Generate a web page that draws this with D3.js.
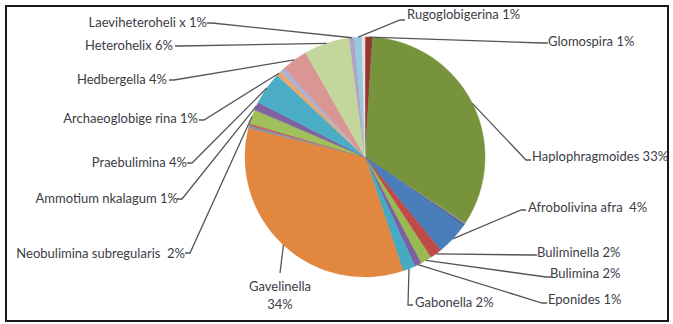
<!DOCTYPE html>
<html>
<head>
<meta charset="utf-8">
<script src="https://cdn.jsdelivr.net/npm/d3@7"></script>
<style>
    body { margin: 0; background: #fff; }
    svg { display: block; }
    .lbl { font-family: Lato, "Open Sans", sans-serif; font-size: 13px; fill: #3c3c46; white-space: pre; }
</style>
</head>
<body>
<svg id="chart" width="673" height="324"></svg>
<script>
// slices in clockwise order from 12 o'clock (in %)
const species = ["Glomospira", "Haplophragmoides", "thin1", "thin2", "Afrobolivina afra",
    "Buliminella", "Bulimina", "Eponides", "Gabonella", "Gavelinella", "thin3", "thin4",
    "Neobulimina subregularis", "Ammotium nkalagum", "Praebulimina", "Archaeoglobigerina",
    "thin5", "Hedbergella", "Heterohelix", "Laeviheterohelix", "Rugoglobigerina", "thin6"]

const shares = [1.0, 33.1, 0.25, 0.25, 4.4,
    1.6, 1.5, 0.9, 1.7, 33.9, 0.3, 0.3,
    1.9, 1.1, 4.4, 0.7,
    0.6, 3.5, 6.1, 0.7, 1.0, 0.4]

const labels = ["Glomospira 1%", "Haplophragmoides 33%", null, null, "Afrobolivina afra  4%",
    "Buliminella 2%", "Bulimina 2%", "Eponides 1%", "Gabonella 2%", "Gavelinella|34%", null, null,
    "Neobulimina subregularis  2%", "Ammotium nkalagum 1%", "Praebulimina 4%", "Archaeoglobige rina 1%",
    null, "Hedbergella 4%", "Heterohelix 6%", "Laeviheteroheli x 1%", "Rugoglobigerina 1%", null]

const colors = ["#953735", "#77933c", "#8f8a84", "#3f6797", "#4a7ebb",
    "#be4b48", "#98b954", "#7d60a0", "#46aac5", "#e2873f", "#8093b0", "#b86b5e",
    "#9fc05a", "#7f63a1", "#4bacc6", "#e6a872",
    "#a5b4d8", "#d99694", "#c3d69b", "#b3a2c7", "#93cddd", "#f2dcdb"]

// label placement: text anchor point, side and where the leader meets the label
const labelPos = {
    "Glomospira": {x: 548, y: 41, anchor: "start", ex: 543, ey: 43},
    "Haplophragmoides": {x: 532, y: 156, anchor: "start", ex: 526, ey: 160},
    "Afrobolivina afra": {x: 528, y: 207, anchor: "start", ex: 521, ey: 210},
    "Buliminella": {x: 537, y: 252, anchor: "start", ex: 532, ey: 255},
    "Bulimina": {x: 550, y: 273, anchor: "start", ex: 546, ey: 277},
    "Eponides": {x: 548, y: 299, anchor: "start", ex: 542, ey: 303},
    "Gabonella": {x: 415, y: 302, anchor: "start", ex: 408, ey: 305, vertical: true},
    "Gavelinella": {x: 280, y: 286, anchor: "middle", ex: 280, ey: 273, center: true},
    "Neobulimina subregularis": {x: 185, y: 253, anchor: "end", ex: 190, ey: 253},
    "Ammotium nkalagum": {x: 178, y: 198, anchor: "end", ex: 182, ey: 199},
    "Praebulimina": {x: 187, y: 162, anchor: "end", ex: 192, ey: 163},
    "Archaeoglobigerina": {x: 198, y: 118, anchor: "end", ex: 204, ey: 120},
    "Hedbergella": {x: 167, y: 79, anchor: "end", ex: 174, ey: 80},
    "Heterohelix": {x: 173, y: 45, anchor: "end", ex: 180, ey: 46},
    "Laeviheterohelix": {x: 207, y: 22, anchor: "end", ex: 212, ey: 23},
    "Rugoglobigerina": {x: 407, y: 14, anchor: "start", ex: 400, ey: 20}
}

const svg = d3.select("#chart")
const cx = 365, cy = 157, r = 120

// border of the chart area
svg.append("rect")
    .attr("x", 6).attr("y", 6)
    .attr("width", 662).attr("height", 315)
    .attr("fill", "none")
    .attr("stroke", "#1a1a1a")
    .attr("stroke-width", 2)

const rows = species.map((s, i) => ({name: s, value: shares[i], label: labels[i], color: colors[i]}))

const pie = d3.pie().sort(null).value(d => d.value)
const arcs = pie(rows)

const arc = d3.arc().innerRadius(0).outerRadius(r)
const edge = d3.arc().innerRadius(r).outerRadius(r)

const g = svg.append("g").attr("transform", "translate(" + cx + "," + cy + ")")

g.selectAll("path.slice")
    .data(arcs)
    .enter().append("path")
    .attr("class", "slice")
    .attr("d", arc)
    .attr("fill", d => d.data.color)
    .attr("stroke", d => d.data.color)
    .attr("stroke-width", 0.5)

// leader lines + labels
const labelled = arcs.filter(d => d.data.label)

labelled.forEach(function (d) {
    const p = labelPos[d.data.name]
    const c = edge.centroid(d)
    const px = cx + c[0], py = cy + c[1]

    let pts
    if (p.center) {
        pts = [[px, py], [p.ex, p.ey]]
    } else if (p.vertical) {
        pts = [[px, py], [p.ex, p.ey], [p.ex + 5, p.ey]]
    } else {
        const tail = p.anchor === "start" ? 5 : -5
        pts = [[px, py], [p.ex, p.ey], [p.ex + tail, p.ey]]
    }
    svg.append("path")
        .attr("d", d3.line()(pts))
        .attr("fill", "none")
        .attr("stroke", "#555")
        .attr("stroke-width", 1.3)

    const parts = d.data.label.split("|")
    parts.forEach(function (t, k) {
        svg.append("text")
            .attr("class", "lbl")
            .attr("x", p.x)
            .attr("y", p.y + k * 18)
            .attr("text-anchor", p.anchor)
            .attr("dominant-baseline", "central")
            .text(t)
    })
})
</script>
</body>
</html>
